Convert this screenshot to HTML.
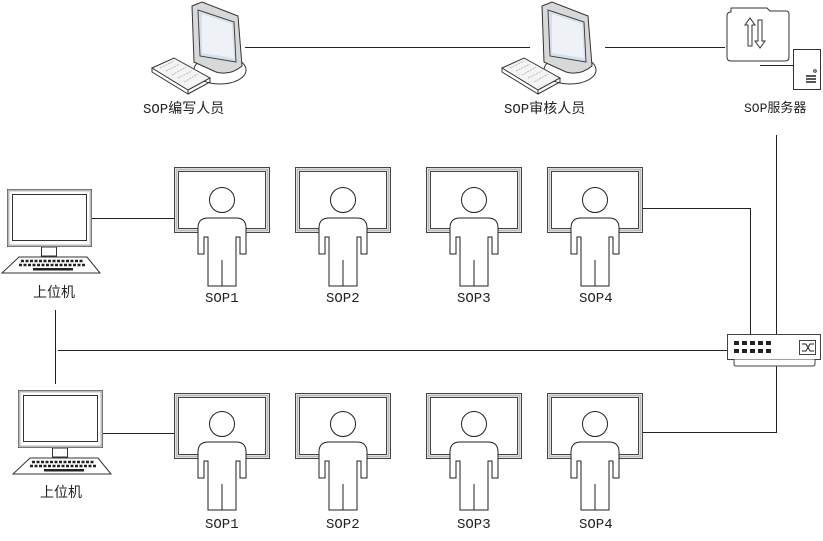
<!DOCTYPE html>
<html><head><meta charset="utf-8"><style>
body{margin:0;background:#fff}
svg{display:block}
text{font-family:"Liberation Mono","Noto Sans CJK SC",monospace;font-size:14px;fill:#222}
</style></head><body>
<svg width="823" height="541" viewBox="0 0 823 541" xmlns="http://www.w3.org/2000/svg">
<defs>
<g id="scr">
<rect x="0.5" y="0.5" width="95" height="65" fill="#fff" stroke="#444"/>
<rect x="2.5" y="2.5" width="91" height="61" fill="#fff" stroke="#bbb" stroke-width="2"/>
<rect x="4.5" y="4.5" width="87" height="57" fill="none" stroke="#444"/>
</g>
<g id="per">
<circle cx="0" cy="0" r="12.5" fill="#fff" stroke="#222"/>
<path d="M-24,54 V28 Q-24,18 -14,18 H14 Q24,18 24,28 V54 H18 V37 H14 V86 H-14 V37 H-18 V54 Z" fill="#fff" stroke="#222"/>
<path d="M0,60 V86" stroke="#222"/>
</g>
<g id="pc">
<rect x="0.5" y="0.5" width="84" height="57" fill="#fff" stroke="#333"/>
<rect x="1.5" y="1.5" width="82" height="55" fill="none" stroke="#bbb" stroke-width="2"/>
<rect x="5.5" y="5.5" width="74" height="46" fill="#fff" stroke="#333"/>
<rect x="34.5" y="58" width="15" height="9" fill="#fff" stroke="#333"/>
<path d="M12,68 H80 L93,84 H-5 Z" fill="#fff" stroke="#333"/>
<path d="M14,72 H76 M12,76 H78" stroke="#222" stroke-width="2.5" stroke-dasharray="3,1.5"/>
<rect x="26" y="79" width="40" height="2.5" fill="#222"/>
</g>
<g id="ws">
<ellipse cx="70" cy="70" rx="26" ry="14" fill="#fff" stroke="#333"/>
<path d="M42,6 L52,2 L88,16 L92,66 Q80,76 66,72 L44,62 Z" fill="#d8d8d8" stroke="#333"/>
<path d="M48,10 L84,22 L86,62 L50,56 Z" fill="#d6e0ec" stroke="#444"/>
<path d="M52,14 L82,24 L84,58 L52,53 Z" fill="#eef2f7"/>
<path d="M2,68 L24,58 L60,78 L38,90 Z" fill="#f4f4f4" stroke="#333"/>
<path d="M2,68 V72 L38,94 V90 M38,94 L60,82 V78" fill="none" stroke="#333"/>
<path d="M10,68 L24,61 M16,71 L30,64 M22,75 L36,67 M28,78 L42,71 M34,82 L48,74" stroke="#bbb" stroke-dasharray="2,1"/>
</g>
</defs>

<g stroke="#222" fill="none">
<path d="M245,47.5 H530 M605,47.5 H725"/>
<path d="M776.5,135 V334"/>
<path d="M58,350.5 H729"/>
<path d="M640,208.5 H750.5 V334"/>
<path d="M776.5,366 V432.5 H640"/>
<path d="M92,218.5 H175 M103,433.5 H175"/>
<path d="M55.5,310 V384"/>
<path d="M760,65.5 H793"/>
</g>

<use href="#ws" transform="translate(150,0)"/>
<use href="#ws" transform="translate(500,0)"/>
<text x="143" y="113">SOP编写人员</text>
<text x="504" y="113">SOP审核人员</text>

<!-- server -->
<path d="M731,12 Q727,12 727,16 V57 Q727,61 731,61 H785 Q789,61 789,57 V14 Q789,11 786,11 H770 L767,8 H731 Z" fill="#fff" stroke="#333"/>
<path d="M748,46 V25 H745 L750,18 L755,25 H752 V46 Z M758,20 V41 H755 L760,48 L765,41 H762 V20 Z" fill="#fff" stroke="#333"/>
<rect x="793.5" y="49.5" width="27" height="40" fill="#fff" stroke="#333"/>
<circle cx="815" cy="71" r="1.3" fill="none" stroke="#333"/>
<path d="M806,76 H816 M806,79 H816 M806,82 H816" stroke="#222" stroke-width="1.5"/>
<text x="744" y="112" style="font-size:13px">SOP服务器</text>

<!-- switch -->
<rect x="727.5" y="334.5" width="93" height="25" fill="#fff" stroke="#444"/>
<path d="M734,359.5 V364 Q734,366 736,366 H813 Q815,366 815,364 V359.5" fill="#fff" stroke="#444"/>
<g fill="#222"><rect x="734" y="341" width="5" height="4"/><rect x="742" y="341" width="5" height="4"/><rect x="750" y="341" width="5" height="4"/><rect x="758" y="341" width="5" height="4"/><rect x="766" y="341" width="5" height="4"/><rect x="734" y="349" width="5" height="4"/><rect x="742" y="349" width="5" height="4"/><rect x="750" y="349" width="5" height="4"/><rect x="758" y="349" width="5" height="4"/><rect x="766" y="349" width="5" height="4"/></g>
<rect x="799.5" y="340.5" width="16" height="14" fill="#fff" stroke="#444"/>
<path d="M802,344 H806 L810,351 H814 M802,351 H806 L810,344 H814" fill="none" stroke="#222"/>

<!-- row 1 -->
<use href="#pc" transform="translate(7,189)"/>
<text x="33" y="297">上位机</text>
<use href="#scr" transform="translate(174,167)"/>
<use href="#scr" transform="translate(295,167)"/>
<use href="#scr" transform="translate(426,167)"/>
<use href="#scr" transform="translate(547,167)"/>
<use href="#per" transform="translate(222,200)"/>
<use href="#per" transform="translate(343,200)"/>
<use href="#per" transform="translate(474,200)"/>
<use href="#per" transform="translate(595,200)"/>
<text x="205" y="302">SOP1</text>
<text x="326" y="302">SOP2</text>
<text x="457" y="302">SOP3</text>
<text x="579" y="302">SOP4</text>

<!-- row 2 -->
<use href="#pc" transform="translate(18,390)"/>
<text x="40" y="497">上位机</text>
<use href="#scr" transform="translate(174,393)"/>
<use href="#scr" transform="translate(295,393)"/>
<use href="#scr" transform="translate(426,393)"/>
<use href="#scr" transform="translate(547,393)"/>
<use href="#per" transform="translate(222,424)"/>
<use href="#per" transform="translate(343,424)"/>
<use href="#per" transform="translate(474,424)"/>
<use href="#per" transform="translate(595,424)"/>
<text x="205" y="528">SOP1</text>
<text x="326" y="528">SOP2</text>
<text x="457" y="528">SOP3</text>
<text x="579" y="528">SOP4</text>
</svg>
</body></html>
